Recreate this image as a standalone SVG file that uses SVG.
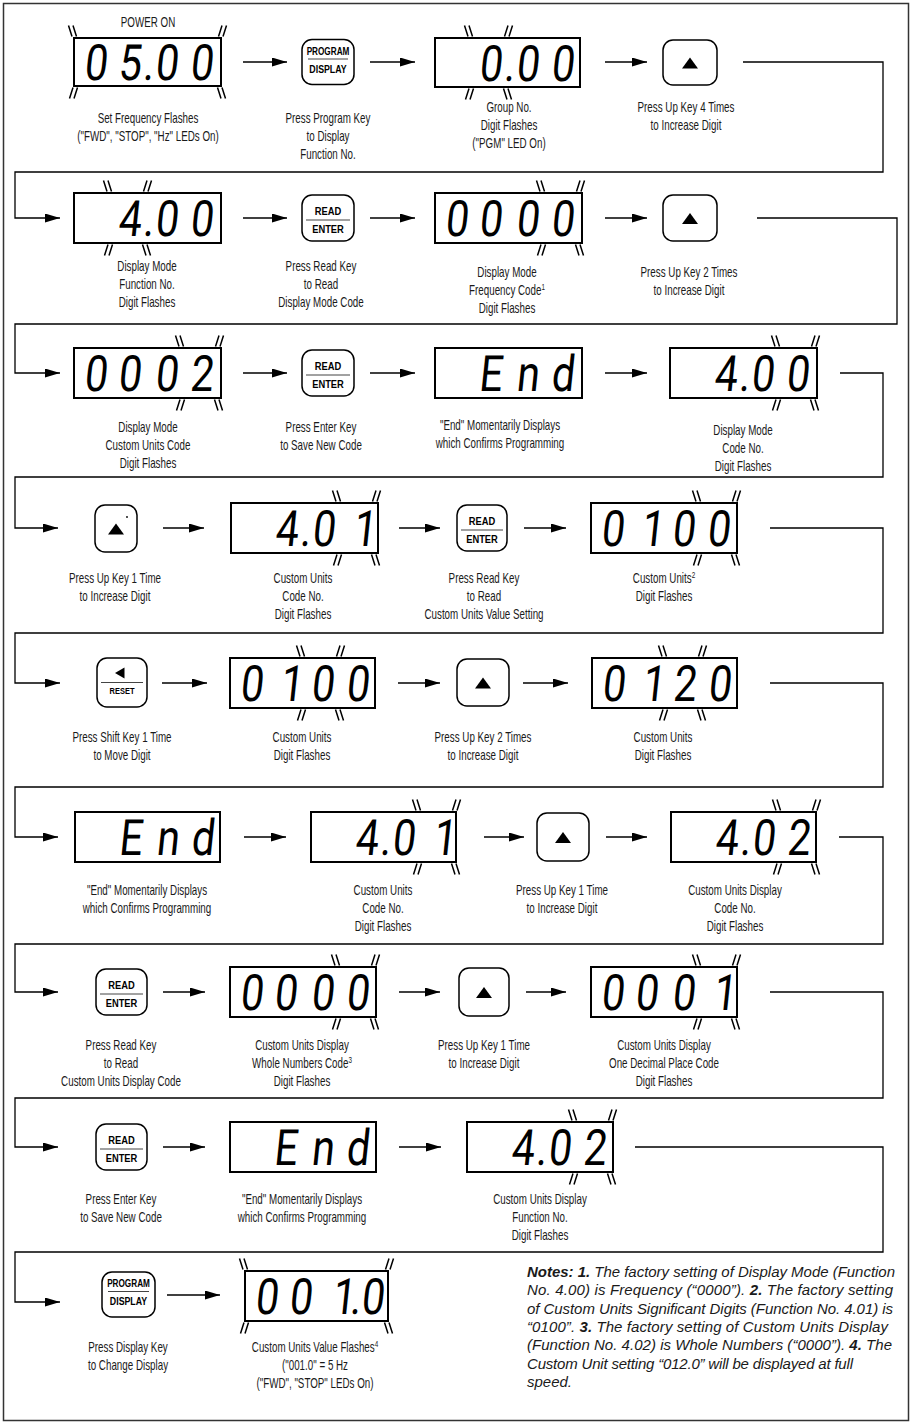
<svg xmlns="http://www.w3.org/2000/svg" width="913" height="1424" viewBox="0 0 913 1424">
<style>
.disp{fill:#fff;stroke:#000;stroke-width:2}
.key{fill:#fff;stroke:#000;stroke-width:1.5}
.seg{font-family:Roboto,"Liberation Sans",sans-serif;font-weight:400;font-size:50px;text-anchor:middle;fill:#000}
.lbl{font-family:"Liberation Sans",Arial,sans-serif;font-size:14px;text-anchor:middle;fill:#1a1a1a}
.sup{font-size:9px}
.kt{font-family:"Liberation Sans",Arial,sans-serif;font-weight:bold;text-anchor:middle;fill:#000}
.note{font-family:"Liberation Sans",Arial,sans-serif;font-style:italic;font-size:15px;fill:#1a1a1a}
.b{font-weight:bold}
.conn path{fill:none;stroke:#000;stroke-width:1.3}
.fl{fill:none;stroke:#000;stroke-width:1.5}
.kl{stroke:#444;stroke-width:1}
.tri{fill:#000}
</style>
<defs>
<marker id="ah" markerUnits="userSpaceOnUse" markerWidth="15" markerHeight="9" refX="15" refY="4.5" orient="auto"><path d="M0,0 L15,4.5 L0,9 z" fill="#000"/></marker>
<path id="bs" class="fl" d="M-4.5,-5.5 L-1,5.5 M0,-5.5 L3.5,5.5"/>
<path id="fs" class="fl" d="M4.5,-5.5 L1,5.5 M0,-5.5 L-3.5,5.5"/>
</defs>
<rect x="3.5" y="3.5" width="905" height="1417" fill="#fff" stroke="#333" stroke-width="1.5"/>

<g class="conn" id="connectors">
<path d="M243,62 H287" marker-end="url(#ah)"/>
<path d="M370,62 H415" marker-end="url(#ah)"/>
<path d="M605,62 H647" marker-end="url(#ah)"/>
<path d="M743,62 H883 V172 H15 V218 H60" marker-end="url(#ah)"/>
<path d="M243,218 H287" marker-end="url(#ah)"/>
<path d="M370,218 H415" marker-end="url(#ah)"/>
<path d="M605,218 H647" marker-end="url(#ah)"/>
<path d="M757,218 H897 V324 H15 V373 H60" marker-end="url(#ah)"/>
<path d="M243,373 H287" marker-end="url(#ah)"/>
<path d="M370,373 H415" marker-end="url(#ah)"/>
<path d="M605,373 H647" marker-end="url(#ah)"/>
<path d="M840,373 H883 V477 H15 V528 H58" marker-end="url(#ah)"/>
<path d="M163,528 H204" marker-end="url(#ah)"/>
<path d="M399,528 H440" marker-end="url(#ah)"/>
<path d="M524,528 H566" marker-end="url(#ah)"/>
<path d="M770,528 H883 V633 H15 V683 H60" marker-end="url(#ah)"/>
<path d="M162,683 H207" marker-end="url(#ah)"/>
<path d="M398,683 H440" marker-end="url(#ah)"/>
<path d="M523,683 H568" marker-end="url(#ah)"/>
<path d="M770,683 H883 V787 H15 V837 H58" marker-end="url(#ah)"/>
<path d="M244,837 H286" marker-end="url(#ah)"/>
<path d="M484,837 H524" marker-end="url(#ah)"/>
<path d="M606,837 H647" marker-end="url(#ah)"/>
<path d="M839,837 H883 V944 H15 V992 H58" marker-end="url(#ah)"/>
<path d="M163,992 H205" marker-end="url(#ah)"/>
<path d="M399,992 H440" marker-end="url(#ah)"/>
<path d="M526,992 H566" marker-end="url(#ah)"/>
<path d="M770,992 H883 V1098 H15 V1147 H58" marker-end="url(#ah)"/>
<path d="M163,1147 H205" marker-end="url(#ah)"/>
<path d="M399,1147 H441" marker-end="url(#ah)"/>
<path d="M635,1147 H883 V1252 H15 V1302 H60" marker-end="url(#ah)"/>
<path d="M167,1295 H220" marker-end="url(#ah)"/>
</g>

<!-- ROW 1 -->
<g id="n1">
<text class="lbl" transform="translate(148,27) scale(.7,1)">POWER ON</text>
<rect class="disp" x="74" y="38" width="147" height="48"/>
<text class="seg" transform="translate(74,80) skewX(-6) scale(.82,1)" x="25.6 67.1 90.2 112.2 154.9">05.00</text>
<use href="#bs" x="73" y="31"/><use href="#fs" x="222" y="31"/>
<use href="#fs" x="73" y="93"/><use href="#bs" x="222" y="93"/>
<text class="lbl" transform="translate(148,123) scale(.7,1)"><tspan x="0" y="0">Set Frequency Flashes</tspan><tspan x="0" y="17.8">("FWD", "STOP", "Hz" LEDs On)</tspan></text>
</g>
<g id="n2">
<rect class="key" x="302" y="39.5" width="52" height="45" rx="10"/>
<text class="kt" font-size="10" transform="translate(328,54.5) scale(.82,1)">PROGRAM</text>
<line class="kl" x1="308" y1="59" x2="348" y2="59"/>
<text class="kt" font-size="10" transform="translate(328,72.5) scale(.88,1)">DISPLAY</text>
<text class="lbl" transform="translate(328,123) scale(.7,1)"><tspan x="0" y="0">Press Program Key</tspan><tspan x="0" y="17.8">to Display</tspan><tspan x="0" y="35.6">Function No.</tspan></text>
</g>
<g id="n3">
<rect class="disp" x="435" y="38" width="145" height="49"/>
<text class="seg" transform="translate(435,80.5) skewX(-6) scale(.82,1)" x="67.1 90.2 112.2 154.9">0.00</text>
<use href="#bs" x="469" y="31"/><use href="#fs" x="508" y="31"/>
<use href="#fs" x="469" y="94"/><use href="#bs" x="508" y="94"/>
<text class="lbl" transform="translate(509,112) scale(.7,1)"><tspan x="0" y="0">Group No.</tspan><tspan x="0" y="17.8">Digit Flashes</tspan><tspan x="0" y="35.6">("PGM" LED On)</tspan></text>
</g>
<g id="n4">
<rect class="key" x="663" y="40" width="54" height="45" rx="10"/>
<path class="tri" d="M690,57.5 L698,68.5 L682,68.5 z"/>
<text class="lbl" transform="translate(686,112) scale(.7,1)"><tspan x="0" y="0">Press Up Key 4 Times</tspan><tspan x="0" y="17.8">to Increase Digit</tspan></text>
</g>

<!-- ROW 2 -->
<g id="n5">
<rect class="disp" x="74" y="193" width="147" height="50"/>
<text class="seg" transform="translate(74,236) skewX(-6) scale(.82,1)" x="67.1 90.2 112.2 154.9">4.00</text>
<use href="#bs" x="108" y="186"/><use href="#fs" x="147" y="186"/>
<use href="#fs" x="108" y="250"/><use href="#bs" x="147" y="250"/>
<text class="lbl" transform="translate(147,271) scale(.7,1)"><tspan x="0" y="0">Display Mode</tspan><tspan x="0" y="17.8">Function No.</tspan><tspan x="0" y="35.6">Digit Flashes</tspan></text>
</g>
<g id="n6">
<rect class="key" x="302" y="195" width="52" height="46" rx="10"/>
<text class="kt" font-size="11" transform="translate(328,215) scale(.85,1)">READ</text>
<line class="kl" x1="306" y1="220" x2="350" y2="220"/>
<text class="kt" font-size="11" transform="translate(328,232.5) scale(.85,1)">ENTER</text>
<text class="lbl" transform="translate(321,271) scale(.7,1)"><tspan x="0" y="0">Press Read Key</tspan><tspan x="0" y="17.8">to Read</tspan><tspan x="0" y="35.6">Display Mode Code</tspan></text>
</g>
<g id="n7">
<rect class="disp" x="435" y="193" width="147" height="50"/>
<text class="seg" transform="translate(435,236) skewX(-6) scale(.82,1)" x="25.6 67.1 112.2 154.9">0000</text>
<use href="#bs" x="541" y="186"/><use href="#fs" x="580" y="186"/>
<use href="#fs" x="541" y="250"/><use href="#bs" x="580" y="250"/>
<text class="lbl" transform="translate(507,277) scale(.7,1)"><tspan x="0" y="0">Display Mode</tspan><tspan x="0" y="17.8">Frequency Code<tspan class="sup" dy="-5">1</tspan></tspan><tspan x="0" y="35.6">Digit Flashes</tspan></text>
</g>
<g id="n8">
<rect class="key" x="663" y="195" width="54" height="46" rx="10"/>
<path class="tri" d="M690,213 L698,224 L682,224 z"/>
<text class="lbl" transform="translate(689,277) scale(.7,1)"><tspan x="0" y="0">Press Up Key 2 Times</tspan><tspan x="0" y="17.8">to Increase Digit</tspan></text>
</g>

<!-- ROW 3 -->
<g id="n9">
<rect class="disp" x="74" y="348" width="147" height="50"/>
<text class="seg" transform="translate(74,391) skewX(-6) scale(.82,1)" x="25.6 67.1 112.2 154.9">0002</text>
<use href="#bs" x="180" y="341"/><use href="#fs" x="219" y="341"/>
<use href="#fs" x="180" y="405"/><use href="#bs" x="219" y="405"/>
<text class="lbl" transform="translate(148,432) scale(.7,1)"><tspan x="0" y="0">Display Mode</tspan><tspan x="0" y="17.8">Custom Units Code</tspan><tspan x="0" y="35.6">Digit Flashes</tspan></text>
</g>
<g id="n10">
<rect class="key" x="302" y="350" width="52" height="46" rx="10"/>
<text class="kt" font-size="11" transform="translate(328,370) scale(.85,1)">READ</text>
<line class="kl" x1="306" y1="375" x2="350" y2="375"/>
<text class="kt" font-size="11" transform="translate(328,387.5) scale(.85,1)">ENTER</text>
<text class="lbl" transform="translate(321,432) scale(.7,1)"><tspan x="0" y="0">Press Enter Key</tspan><tspan x="0" y="17.8">to Save New Code</tspan></text>
</g>
<g id="n11">
<rect class="disp" x="435" y="348" width="147" height="50"/>
<text class="seg" transform="translate(435,391) skewX(-6) scale(.82,1)" x="67.1 112.2 154.9">End</text>
<text class="lbl" transform="translate(500,430) scale(.7,1)"><tspan x="0" y="0">"End" Momentarily Displays</tspan><tspan x="0" y="17.8">which Confirms Programming</tspan></text>
</g>
<g id="n12">
<rect class="disp" x="670" y="348" width="147" height="50"/>
<text class="seg" transform="translate(670,391) skewX(-6) scale(.82,1)" x="67.1 90.2 112.2 154.9">4.00</text>
<use href="#bs" x="776" y="341"/><use href="#fs" x="815" y="341"/>
<use href="#fs" x="776" y="405"/><use href="#bs" x="815" y="405"/>
<text class="lbl" transform="translate(743,435) scale(.7,1)"><tspan x="0" y="0">Display Mode</tspan><tspan x="0" y="17.8">Code No.</tspan><tspan x="0" y="35.6">Digit Flashes</tspan></text>
</g>

<!-- ROW 4 -->
<g id="n13">
<rect class="key" x="95" y="505" width="42" height="47" rx="10"/>
<path class="tri" d="M116,523.5 L124,534.5 L108,534.5 z"/>
<circle cx="127" cy="517" r="0.9" fill="#000"/>
<text class="lbl" transform="translate(115,583) scale(.7,1)"><tspan x="0" y="0">Press Up Key 1 Time</tspan><tspan x="0" y="17.8">to Increase Digit</tspan></text>
</g>
<g id="n14">
<rect class="disp" x="231" y="503" width="147" height="50"/>
<text class="seg" transform="translate(231,546) skewX(-6) scale(.82,1)" x="67.1 90.2 112.2 162.2">4.01</text>
<use href="#bs" x="337" y="496"/><use href="#fs" x="376" y="496"/>
<use href="#fs" x="337" y="560"/><use href="#bs" x="376" y="560"/>
<text class="lbl" transform="translate(303,583) scale(.7,1)"><tspan x="0" y="0">Custom Units</tspan><tspan x="0" y="17.8">Code No.</tspan><tspan x="0" y="35.6">Digit Flashes</tspan></text>
</g>
<g id="n15">
<rect class="key" x="457" y="505" width="50" height="46" rx="10"/>
<text class="kt" font-size="11" transform="translate(482,525) scale(.85,1)">READ</text>
<line class="kl" x1="461" y1="530" x2="503" y2="530"/>
<text class="kt" font-size="11" transform="translate(482,542.5) scale(.85,1)">ENTER</text>
<text class="lbl" transform="translate(484,583) scale(.7,1)"><tspan x="0" y="0">Press Read Key</tspan><tspan x="0" y="17.8">to Read</tspan><tspan x="0" y="35.6">Custom Units Value Setting</tspan></text>
</g>
<g id="n16">
<rect class="disp" x="591" y="503" width="146" height="50"/>
<text class="seg" transform="translate(591,546) skewX(-6) scale(.82,1)" x="25.6 74.4 112.2 154.9">0100</text>
<use href="#bs" x="697" y="496"/><use href="#fs" x="736" y="496"/>
<use href="#fs" x="697" y="560"/><use href="#bs" x="736" y="560"/>
<text class="lbl" transform="translate(664,583) scale(.7,1)"><tspan x="0" y="0">Custom Units<tspan class="sup" dy="-5">2</tspan></tspan><tspan x="0" y="17.8">Digit Flashes</tspan></text>
</g>

<!-- ROW 5 -->
<g id="n17">
<rect class="key" x="97" y="658" width="50" height="49" rx="10"/>
<path class="tri" d="M115,673 L124.5,667.5 L124.5,678.5 z"/>
<line class="kl" x1="101" y1="682.5" x2="143" y2="682.5"/>
<text class="kt" font-size="8.5" transform="translate(122,693.5) scale(.88,1)">RESET</text>
<text class="lbl" transform="translate(122,742) scale(.7,1)"><tspan x="0" y="0">Press Shift Key 1 Time</tspan><tspan x="0" y="17.8">to Move Digit</tspan></text>
</g>
<g id="n18">
<rect class="disp" x="230" y="658" width="145" height="50"/>
<text class="seg" transform="translate(230,701) skewX(-6) scale(.82,1)" x="25.6 74.4 112.2 154.9">0100</text>
<use href="#bs" x="301" y="651"/><use href="#fs" x="340" y="651"/>
<use href="#fs" x="301" y="715"/><use href="#bs" x="340" y="715"/>
<text class="lbl" transform="translate(302,742) scale(.7,1)"><tspan x="0" y="0">Custom Units</tspan><tspan x="0" y="17.8">Digit Flashes</tspan></text>
</g>
<g id="n19">
<rect class="key" x="457" y="659" width="52" height="47" rx="10"/>
<path class="tri" d="M483,677.5 L491,688.5 L475,688.5 z"/>
<text class="lbl" transform="translate(483,742) scale(.7,1)"><tspan x="0" y="0">Press Up Key 2 Times</tspan><tspan x="0" y="17.8">to Increase Digit</tspan></text>
</g>
<g id="n20">
<rect class="disp" x="592" y="658" width="145" height="50"/>
<text class="seg" transform="translate(592,701) skewX(-6) scale(.82,1)" x="25.6 74.4 112.2 154.9">0120</text>
<use href="#bs" x="663" y="651"/><use href="#fs" x="702" y="651"/>
<use href="#fs" x="663" y="715"/><use href="#bs" x="702" y="715"/>
<text class="lbl" transform="translate(663,742) scale(.7,1)"><tspan x="0" y="0">Custom Units</tspan><tspan x="0" y="17.8">Digit Flashes</tspan></text>
</g>

<!-- ROW 6 -->
<g id="n21">
<rect class="disp" x="75" y="812" width="145" height="50"/>
<text class="seg" transform="translate(75,855) skewX(-6) scale(.82,1)" x="67.1 112.2 154.9">End</text>
<text class="lbl" transform="translate(147,895) scale(.7,1)"><tspan x="0" y="0">"End" Momentarily Displays</tspan><tspan x="0" y="17.8">which Confirms Programming</tspan></text>
</g>
<g id="n22">
<rect class="disp" x="311" y="812" width="145" height="50"/>
<text class="seg" transform="translate(311,855) skewX(-6) scale(.82,1)" x="67.1 90.2 112.2 162.2">4.01</text>
<use href="#bs" x="417" y="805"/><use href="#fs" x="456" y="805"/>
<use href="#fs" x="417" y="869"/><use href="#bs" x="456" y="869"/>
<text class="lbl" transform="translate(383,895) scale(.7,1)"><tspan x="0" y="0">Custom Units</tspan><tspan x="0" y="17.8">Code No.</tspan><tspan x="0" y="35.6">Digit Flashes</tspan></text>
</g>
<g id="n23">
<rect class="key" x="537" y="813" width="52" height="48" rx="10"/>
<path class="tri" d="M563,832 L571,843 L555,843 z"/>
<text class="lbl" transform="translate(562,895) scale(.7,1)"><tspan x="0" y="0">Press Up Key 1 Time</tspan><tspan x="0" y="17.8">to Increase Digit</tspan></text>
</g>
<g id="n24">
<rect class="disp" x="671" y="812" width="145" height="50"/>
<text class="seg" transform="translate(671,855) skewX(-6) scale(.82,1)" x="67.1 90.2 112.2 154.9">4.02</text>
<use href="#bs" x="777" y="805"/><use href="#fs" x="816" y="805"/>
<use href="#fs" x="777" y="869"/><use href="#bs" x="816" y="869"/>
<text class="lbl" transform="translate(735,895) scale(.7,1)"><tspan x="0" y="0">Custom Units Display</tspan><tspan x="0" y="17.8">Code No.</tspan><tspan x="0" y="35.6">Digit Flashes</tspan></text>
</g>

<!-- ROW 7 -->
<g id="n25">
<rect class="key" x="96" y="969" width="51" height="46" rx="10"/>
<text class="kt" font-size="11" transform="translate(121.5,989) scale(.85,1)">READ</text>
<line class="kl" x1="100" y1="994" x2="143" y2="994"/>
<text class="kt" font-size="11" transform="translate(121.5,1006.5) scale(.85,1)">ENTER</text>
<text class="lbl" transform="translate(121,1050) scale(.7,1)"><tspan x="0" y="0">Press Read Key</tspan><tspan x="0" y="17.8">to Read</tspan><tspan x="0" y="35.6">Custom Units Display Code</tspan></text>
</g>
<g id="n26">
<rect class="disp" x="230" y="967" width="146" height="50"/>
<text class="seg" transform="translate(230,1010) skewX(-6) scale(.82,1)" x="25.6 67.1 112.2 154.9">0000</text>
<use href="#bs" x="336" y="960"/><use href="#fs" x="375" y="960"/>
<use href="#fs" x="336" y="1024"/><use href="#bs" x="375" y="1024"/>
<text class="lbl" transform="translate(302,1050) scale(.7,1)"><tspan x="0" y="0">Custom Units Display</tspan><tspan x="0" y="17.8">Whole Numbers Code<tspan class="sup" dy="-5">3</tspan></tspan><tspan x="0" y="35.6">Digit Flashes</tspan></text>
</g>
<g id="n27">
<rect class="key" x="459" y="968" width="50" height="48" rx="10"/>
<path class="tri" d="M484,987 L492,998 L476,998 z"/>
<text class="lbl" transform="translate(484,1050) scale(.7,1)"><tspan x="0" y="0">Press Up Key 1 Time</tspan><tspan x="0" y="17.8">to Increase Digit</tspan></text>
</g>
<g id="n28">
<rect class="disp" x="591" y="967" width="146" height="50"/>
<text class="seg" transform="translate(591,1010) skewX(-6) scale(.82,1)" x="25.6 67.1 112.2 162.2">0001</text>
<use href="#bs" x="697" y="960"/><use href="#fs" x="736" y="960"/>
<use href="#fs" x="697" y="1024"/><use href="#bs" x="736" y="1024"/>
<text class="lbl" transform="translate(664,1050) scale(.7,1)"><tspan x="0" y="0">Custom Units Display</tspan><tspan x="0" y="17.8">One Decimal Place Code</tspan><tspan x="0" y="35.6">Digit Flashes</tspan></text>
</g>

<!-- ROW 8 -->
<g id="n29">
<rect class="key" x="96" y="1124" width="51" height="46" rx="10"/>
<text class="kt" font-size="11" transform="translate(121.5,1144) scale(.85,1)">READ</text>
<line class="kl" x1="100" y1="1149" x2="143" y2="1149"/>
<text class="kt" font-size="11" transform="translate(121.5,1161.5) scale(.85,1)">ENTER</text>
<text class="lbl" transform="translate(121,1204) scale(.7,1)"><tspan x="0" y="0">Press Enter Key</tspan><tspan x="0" y="17.8">to Save New Code</tspan></text>
</g>
<g id="n30">
<rect class="disp" x="230" y="1122" width="146" height="50"/>
<text class="seg" transform="translate(230,1165) skewX(-6) scale(.82,1)" x="67.1 112.2 154.9">End</text>
<text class="lbl" transform="translate(302,1204) scale(.7,1)"><tspan x="0" y="0">"End" Momentarily Displays</tspan><tspan x="0" y="17.8">which Confirms Programming</tspan></text>
</g>
<g id="n31">
<rect class="disp" x="467" y="1122" width="146" height="50"/>
<text class="seg" transform="translate(467,1165) skewX(-6) scale(.82,1)" x="67.1 90.2 112.2 154.9">4.02</text>
<use href="#bs" x="573" y="1115"/><use href="#fs" x="612" y="1115"/>
<use href="#fs" x="573" y="1179"/><use href="#bs" x="612" y="1179"/>
<text class="lbl" transform="translate(540,1204) scale(.7,1)"><tspan x="0" y="0">Custom Units Display</tspan><tspan x="0" y="17.8">Function No.</tspan><tspan x="0" y="35.6">Digit Flashes</tspan></text>
</g>

<!-- ROW 9 -->
<g id="n32">
<rect class="key" x="102" y="1272" width="53" height="45" rx="10"/>
<text class="kt" font-size="10" transform="translate(128.5,1287) scale(.82,1)">PROGRAM</text>
<line class="kl" x1="108" y1="1291.5" x2="149" y2="1291.5"/>
<text class="kt" font-size="10" transform="translate(128.5,1305) scale(.88,1)">DISPLAY</text>
<text class="lbl" transform="translate(128,1352) scale(.7,1)"><tspan x="0" y="0">Press Display Key</tspan><tspan x="0" y="17.8">to Change Display</tspan></text>
</g>
<g id="n33">
<rect class="disp" x="245" y="1271" width="143" height="50"/>
<text class="seg" transform="translate(245,1314) skewX(-6) scale(.82,1)" x="25.6 67.1 119.5 134.1 154.9">001.0</text>
<use href="#bs" x="244" y="1264"/><use href="#fs" x="389" y="1264"/>
<use href="#fs" x="244" y="1328"/><use href="#bs" x="389" y="1328"/>
<text class="lbl" transform="translate(315,1352) scale(.7,1)"><tspan x="0" y="0">Custom Units Value Flashes<tspan class="sup" dy="-5">4</tspan></tspan><tspan x="0" y="17.8">("001.0" = 5 Hz</tspan><tspan x="0" y="35.6">("FWD", "STOP" LEDs On)</tspan></text>
</g>

<g id="notes">
<text class="note" x="527" y="1277" textLength="368" lengthAdjust="spacing"><tspan class="b">Notes: 1.</tspan> The factory setting of Display Mode (Function</text>
<text class="note" x="527" y="1295.3" textLength="366" lengthAdjust="spacing">No. 4.00) is Frequency (“0000”). <tspan class="b">2.</tspan> The factory setting</text>
<text class="note" x="527" y="1313.6" textLength="366" lengthAdjust="spacing">of Custom Units Significant Digits (Function No. 4.01) is</text>
<text class="note" x="527" y="1331.9" textLength="361" lengthAdjust="spacing">“0100”. <tspan class="b">3.</tspan> The factory setting of Custom Units Display</text>
<text class="note" x="527" y="1350.2" textLength="365" lengthAdjust="spacing">(Function No. 4.02) is Whole Numbers (“0000”). <tspan class="b">4.</tspan> The</text>
<text class="note" x="527" y="1368.5" textLength="326" lengthAdjust="spacing">Custom Unit setting “012.0” will be displayed at full</text>
<text class="note" x="527" y="1386.8">speed.</text>
</g>
</svg>
